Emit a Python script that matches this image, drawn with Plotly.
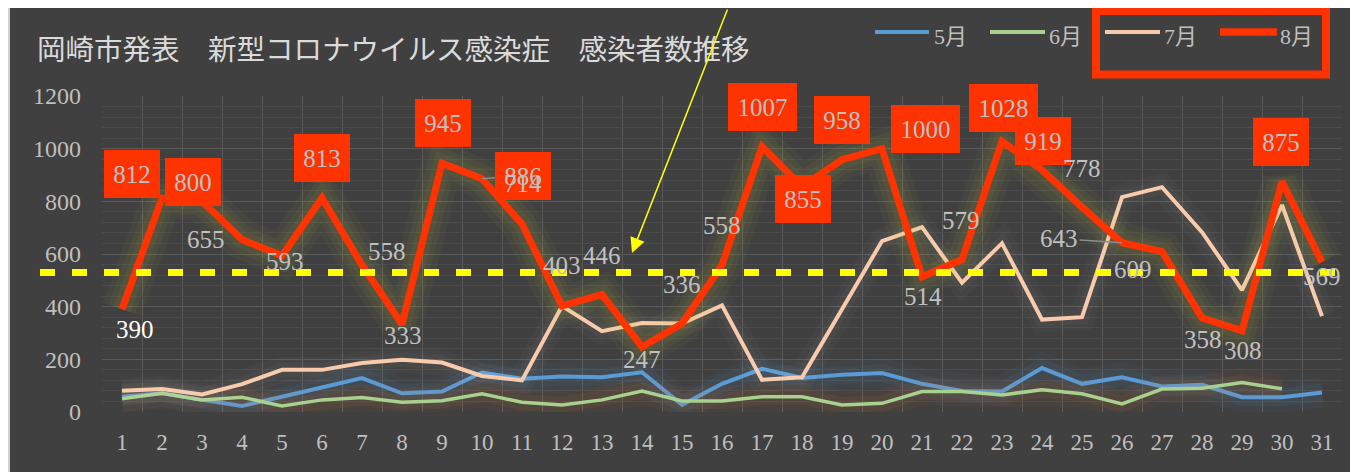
import plotly.graph_objects as go

# ---------------- data ----------------
days = list(range(1, 32))
may = [58, 71, 46, 23, 58, 93, 129, 71, 78, 150, 126, 135, 132, 151, 27, 107,
       164, 129, 141, 148, 107, 80, 78, 167, 107, 132, 97, 103, 56, 56, 74]
june = [50, 71, 46, 56, 23, 46, 55, 37, 43, 69, 37, 27, 46, 80, 42, 42,
        58, 58, 27, 33, 78, 78, 65, 84, 69, 31, 87, 90, 112, 88]
july = [81, 87, 67, 106, 160, 160, 186, 198, 188, 137, 120, 402, 307, 338, 336, 405,
        122, 132, 390, 649, 702, 491, 641, 351, 360, 816, 854, 683, 463, 786, 364]
aug = [390, 812, 800, 655, 593, 813, 558, 333, 945, 886, 714, 403, 446, 247, 336, 558,
       1007, 855, 958, 1000, 514, 579, 1028, 919, 778, 643, 609, 358, 308, 875, 569]
series_names = ["5月", "6月", "7月", "8月"]
y_ticks = [0, 200, 400, 600, 800, 1000, 1200]
threshold = 530
title_text = "岡崎市発表　新型コロナウイルス感染症　感染者数推移"

# ---------------- styling / label placement ----------------
OFF = 8                      # page body margin of the html page
W, H = 1358 - OFF, 472 - OFF  # figure size
PL, PR, PT, PB = 102, 1342, 96, 412   # plot area in page pixels
BG = "#404040"
RED = "#FF3300"
colors = ["#5B9BD5", "#A9D18E", "#F8CBAD", RED]
widths = [4, 3.5, 4, 7]
glows = [
    [("rgba(91,155,213,0.05)", 30), ("rgba(91,155,213,0.07)", 18)],
    [("rgba(237,125,49,0.05)", 28), ("rgba(237,125,49,0.07)", 16)],
    [("rgba(255,255,255,0.025)", 26), ("rgba(255,255,255,0.03)", 14)],
    [("rgba(220,215,60,0.045)", 40), ("rgba(220,215,60,0.05)", 28), ("rgba(220,215,60,0.05)", 18)],
]
boxed_days = {2, 3, 6, 9, 10, 17, 18, 19, 20, 23, 24, 30}
leader_days = {10, 26}
label_shift = {
    1: (13, -20), 2: (-30, 24), 3: (-9, 19), 4: (-36, 0), 5: (3, -6), 6: (0, 40),
    7: (25, 14), 8: (1, -11), 9: (1, 40), 10: (41, 3), 11: (1, 40), 12: (0, 40),
    13: (0, 39), 14: (0, -13), 15: (0, 39), 16: (0, 40), 17: (0, 40), 18: (1, -12),
    19: (0, 40), 20: (43, 20), 21: (1, -20), 22: (-1, 39), 23: (1, 33), 24: (1, 29),
    25: (0, 39), 26: (-63, 4), 27: (-29, -18), 28: (1, -22), 29: (1, -20), 30: (-1, 40),
    31: (0, -14),
}
NUMF = "Liberation Serif"
LEGF = "Liberation Serif, Noto Sans CJK JP"
GREY_TXT = "#C0C0C0"


def px_x(px):
    return (px - PL) / (PR - PL)


def px_y(py):
    return (PB - py) / (PB - PT)


fig = go.Figure()

all_series = [(days, may), (days[:len(june)], june), (days, july), (days, aug)]
for i, (xs, ys) in enumerate(all_series):
    for gcol, gw in glows[i]:
        fig.add_trace(go.Scatter(x=xs, y=ys, mode="lines", hoverinfo="skip",
                                 showlegend=False,
                                 line=dict(color=gcol, width=gw)))
    fig.add_trace(go.Scatter(x=xs, y=ys, mode="lines", name=series_names[i],
                             hoverinfo="skip", showlegend=False,
                             line=dict(color=colors[i], width=widths[i])))

annotations = []
# data labels for August
for d, v in zip(days, aug):
    dx, dy = label_shift[d]
    boxed = d in boxed_days
    col = "#FFFFFF" if d == 1 else GREY_TXT
    a = dict(x=d, y=v, xref="x", yref="y", text=str(v),
             font=dict(family=NUMF, size=25, color=col),
             xanchor="center", yanchor="middle")
    if boxed:
        nd = len(str(v))
        a.update(bgcolor=RED, borderpad=4, borderwidth=0,
                 width=48 if nd == 3 else 61, height=40)
    if d in leader_days:
        a.update(showarrow=True, ax=dx, ay=-dy, arrowhead=0, arrowwidth=1.5,
                 arrowcolor="#8C8C8C", standoff=0)
    else:
        a.update(showarrow=False, xshift=dx, yshift=dy)
    annotations.append(a)

# title
annotations.append(dict(text=title_text, xref="paper", yref="paper",
                        x=px_x(35), y=px_y(47), xanchor="left", yanchor="middle",
                        showarrow=False,
                        font=dict(family="Noto Sans CJK JP", size=28.5, color="#DADADA")))

# legend (manual)
legend_lines = [(875, 929), (990, 1045), (1105, 1160), (1220, 1277)]
legend_text_x = [932, 1047, 1162, 1278]
shapes = []
for i, name in enumerate(series_names):
    x0, x1 = legend_lines[i]
    shapes.append(dict(type="line", xref="paper", yref="paper",
                       x0=px_x(x0), x1=px_x(x1), y0=px_y(32), y1=px_y(32),
                       line=dict(color=colors[i], width=4 if i < 3 else 7.5)))
    annotations.append(dict(text=name, xref="paper", yref="paper",
                            x=px_x(legend_text_x[i]), y=px_y(37),
                            xanchor="left", yanchor="middle", showarrow=False,
                            font=dict(family=LEGF, size=22, color="#BFBFBF")))

# highlight box around 7月/8月
shapes.append(dict(type="rect", xref="paper", yref="paper",
                   x0=px_x(1096), x1=px_x(1326), y0=px_y(74.5), y1=px_y(11),
                   line=dict(color=RED, width=8), fillcolor="rgba(0,0,0,0)"))

# yellow dashed reference line
shapes.append(dict(type="line", xref="paper", yref="y",
                   x0=px_x(40), x1=px_x(1336), y0=threshold, y1=threshold,
                   line=dict(color="#FFFF00", width=7, dash="15px,17px"), layer="above"))

# yellow arrow
annotations.append(dict(x=px_x(632), y=px_y(253), xref="paper", yref="paper",
                        ax=728 - 632, ay=-2 - 253, text="", showarrow=True,
                        arrowhead=2, arrowsize=2.0, arrowwidth=1.5,
                        arrowcolor="#FFFF00", standoff=0))

# thin light frame line at the left edge of the chart
shapes.append(dict(type="line", xref="paper", yref="paper",
                   x0=px_x(OFF + 1), x1=px_x(OFF + 1), y0=px_y(480), y1=px_y(0),
                   line=dict(color="#D0D0D0", width=2), layer="above"))

fig.update_layout(
    width=W, height=H,
    margin=dict(l=PL - OFF, r=W - (PR - OFF), t=PT - OFF, b=H - (PB - OFF), pad=0),
    paper_bgcolor=BG, plot_bgcolor=BG,
    showlegend=False,
    annotations=annotations,
    shapes=shapes,
    hovermode=False,
)
fig.update_xaxes(
    range=[0.5, 31.5], tickmode="array", tickvals=days, ticktext=[str(d) for d in days],
    showgrid=False, zeroline=False, showline=False, ticks="",
    tickfont=dict(family=NUMF, size=23, color="#BFBFBF"),
    ticklabelstandoff=14,
    minor=dict(tickmode="array", tickvals=[d - 0.5 for d in days] + [days[-1] + 0.5],
               showgrid=True, gridcolor="#5A5A5A", gridwidth=1, ticks=""),
)
fig.update_yaxes(
    range=[0, 1200], tickmode="array", tickvals=y_ticks, ticktext=[str(t) for t in y_ticks],
    showgrid=True, gridcolor="#5A5A5A", gridwidth=1, zeroline=False, showline=False,
    ticks="", tickfont=dict(family=NUMF, size=24, color="#BFBFBF"),
    ticklabelstandoff=20,
    minor=dict(tickmode="linear", tick0=0, dtick=40, showgrid=True,
               gridcolor="#4B4B4B", gridwidth=1, ticks=""),
)

fig.write_html("out.html")
